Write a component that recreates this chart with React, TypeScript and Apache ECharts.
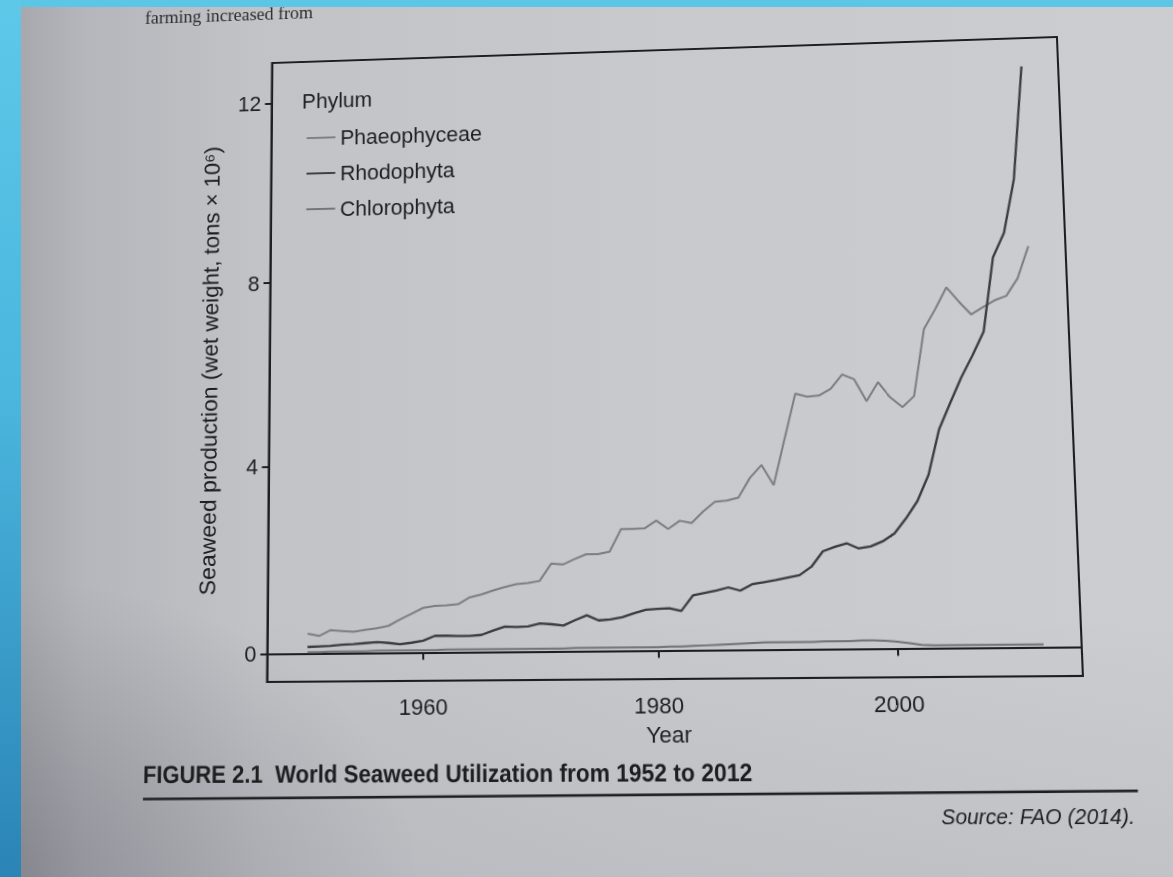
import React, { useEffect, useRef } from "react";
import * as echarts from "echarts";

const years = [
  1950, 1951, 1952, 1953, 1954, 1955, 1956, 1957, 1958, 1959,
  1960, 1961, 1962, 1963, 1964, 1965, 1966, 1967, 1968, 1969,
  1970, 1971, 1972, 1973, 1974, 1975, 1976, 1977, 1978, 1979,
  1980, 1981, 1982, 1983, 1984, 1985, 1986, 1987, 1988, 1989,
  1990, 1991, 1992, 1993, 1994, 1995, 1996, 1997, 1998, 1999,
  2000, 2001, 2002, 2003, 2004, 2005, 2006, 2007, 2008, 2009,
  2010, 2011, 2012,
];

const phaeophyceae = [
  0.42, 0.37, 0.49, 0.47, 0.45, 0.49, 0.52, 0.57, 0.7, 0.82,
  0.94, 0.98, 0.99, 1.01, 1.15, 1.21, 1.29, 1.36, 1.42, 1.44,
  1.48, 1.84, 1.82, 1.93, 2.03, 2.03, 2.08, 2.55, 2.55, 2.56,
  2.72, 2.54, 2.71, 2.66, 2.9, 3.1, 3.12, 3.18, 3.59, 3.86,
  3.43, 4.4, 5.36, 5.29, 5.31, 5.45, 5.75, 5.64, 5.17, 5.57,
  5.24, 5.03, 5.26, 6.68, 7.1, 7.56, 7.25, 6.97, 7.12, 7.26,
  7.35, 7.72, 8.4,
];

const rhodophyta = [
  0.14, 0.15, 0.16, 0.18, 0.19, 0.21, 0.23, 0.21, 0.18, 0.21,
  0.25, 0.35, 0.35, 0.34, 0.34, 0.36, 0.45, 0.53, 0.52, 0.53,
  0.59, 0.57, 0.54, 0.65, 0.75, 0.64, 0.66, 0.7, 0.78, 0.85,
  0.87, 0.88, 0.82, 1.14, 1.19, 1.24, 1.3, 1.23, 1.36, 1.4,
  1.44, 1.49, 1.54, 1.71, 2.03, 2.12, 2.19, 2.08, 2.12, 2.22,
  2.38, 2.69, 3.05, 3.6, 4.55, 5.1, 5.64, 6.1, 6.6, 8.18,
  8.7, 9.85, 12.3,
];

const chlorophyta = [
  0.03, 0.03, 0.04, 0.04, 0.04, 0.04, 0.05, 0.05, 0.05, 0.05,
  0.05, 0.05, 0.06, 0.06, 0.06, 0.06, 0.06, 0.06, 0.06, 0.06,
  0.06, 0.06, 0.06, 0.07, 0.07, 0.07, 0.07, 0.07, 0.07, 0.07,
  0.07, 0.08, 0.08, 0.09, 0.1, 0.11, 0.12, 0.13, 0.14, 0.15,
  0.15, 0.15, 0.15, 0.15, 0.16, 0.16, 0.16, 0.17, 0.17, 0.16,
  0.14, 0.11, 0.07, 0.06, 0.06, 0.06, 0.06, 0.06, 0.06, 0.06,
  0.06, 0.06, 0.06,
];

const seriesNames = ["Phaeophyceae", "Rhodophyta", "Chlorophyta"];
const seriesColors = ["#7c7e84", "#3c3d42", "#717379"];
const seriesWidths = [2, 2.3, 2];
const xTicks = [1960, 1980, 2000];
const yTicks = [0, 4, 8, 12];

const SANS = "'Liberation Sans', Arial, Helvetica, sans-serif";
const INK = "#1e1e21";

// The chart div extends OFF px above the page so that text above the
// frame is not clipped; its flat rectangle is mapped onto the keystoned
// frame seen in the photo.
const OFF = 60;
const W = 1173;
const H = 877 + OFF;
const SRC = [[269.5, 50 + OFF], [1070, 50 + OFF], [269.5, 679 + OFF], [1070, 679 + OFF]];
const DST = [[272, 63 + OFF], [1057, 37 + OFF], [267, 682 + OFF], [1083, 676 + OFF]];

function solveHomography(src: number[][], dst: number[][]) {
  const A: number[][] = [];
  const B: number[] = [];
  for (let i = 0; i < 4; i++) {
    const [x, y] = src[i];
    const [X, Y] = dst[i];
    A.push([x, y, 1, 0, 0, 0, -x * X, -y * X]);
    B.push(X);
    A.push([0, 0, 0, x, y, 1, -x * Y, -y * Y]);
    B.push(Y);
  }
  const n = 8;
  for (let col = 0; col < n; col++) {
    let piv = col;
    for (let r = col + 1; r < n; r++) if (Math.abs(A[r][col]) > Math.abs(A[piv][col])) piv = r;
    [A[col], A[piv]] = [A[piv], A[col]];
    [B[col], B[piv]] = [B[piv], B[col]];
    for (let r = 0; r < n; r++) {
      if (r === col) continue;
      const f = A[r][col] / A[col][col];
      for (let k = col; k < n; k++) A[r][k] -= f * A[col][k];
      B[r] -= f * B[col];
    }
  }
  return B.map((b, i) => b / A[i][i]);
}

const HF = solveHomography(SRC, DST);
const HI = solveHomography(DST, SRC);

function mapPt(h: number[], x: number, y: number) {
  const w = h[6] * x + h[7] * y + 1;
  return [(h[0] * x + h[1] * y + h[2]) / w, (h[3] * x + h[4] * y + h[5]) / w];
}
// page (photo) coordinates -> flat chart coordinates
const unwarp = (x: number, y: number) => mapPt(HI, x, y + OFF);

const MATRIX = `matrix3d(${HF[0]},${HF[3]},0,${HF[6]},${HF[1]},${HF[4]},0,${HF[7]},0,0,1,0,${HF[2]},${HF[5]},0,1)`;

function pairs(vals: number[]) {
  return years.map((y, i) => [y, vals[i]]);
}

export default function App() {
  const ref = useRef<HTMLDivElement>(null);

  useEffect(() => {
    if (!ref.current) return;
    const chart = echarts.init(ref.current, null, { renderer: "svg" });
    const allVals = [phaeophyceae, rhodophyta, chlorophyta];
    const phylum = unwarp(302, 101);
    const leg = unwarp(302, 123);
    const cap = unwarp(143, 775);
    const r1 = unwarp(143, 799);
    const r2 = unwarp(1138, 791);
    const src = unwarp(1135, 817);
    const top = unwarp(145, 18);
    chart.setOption({
      animation: false,
      backgroundColor: "transparent",
      grid: {
        left: 269.5,
        top: 50 + OFF,
        right: W - 1070,
        bottom: H - (679 + OFF),
        show: true,
        borderColor: INK,
        borderWidth: 2,
        backgroundColor: "transparent",
      },
      legend: {
        orient: "vertical",
        left: leg[0],
        top: leg[1],
        itemGap: 15,
        itemWidth: 30,
        itemHeight: 2,
        icon: "rect",
        data: seriesNames,
        textStyle: { fontSize: 22, lineHeight: 22, color: INK, fontFamily: SANS },
      },
      xAxis: {
        type: "value",
        min: 1946.5,
        max: 2015.1,
        name: "Year",
        nameLocation: "middle",
        nameGap: 42,
        nameTextStyle: { fontSize: 22, color: INK, fontFamily: SANS },
        axisLine: { show: true, lineStyle: { color: INK, width: 2 } },
        axisTick: { show: true, customValues: xTicks, length: 7, lineStyle: { color: INK, width: 2 } },
        axisLabel: {
          customValues: xTicks,
          formatter: (v: number) => String(v),
          fontSize: 22,
          color: INK,
          fontFamily: SANS,
          margin: 14,
        },
        splitLine: { show: false },
      },
      yAxis: {
        type: "value",
        min: -0.59,
        max: 12.92,
        name: "Seaweed production (wet weight, tons × 10⁶)",
        nameLocation: "middle",
        nameGap: 50,
        nameTextStyle: { fontSize: 23, color: INK, fontFamily: SANS },
        axisLine: { show: true, lineStyle: { color: INK, width: 2 } },
        axisTick: { show: true, customValues: yTicks, length: 7, lineStyle: { color: INK, width: 2 } },
        axisLabel: {
          customValues: yTicks,
          formatter: (v: number) => String(v),
          fontSize: 22,
          color: INK,
          fontFamily: SANS,
          margin: 11,
        },
        splitLine: { show: false },
      },
      series: seriesNames.map((name, i) => ({
        name,
        type: "line",
        data: pairs(allVals[i]),
        symbol: "none",
        showSymbol: false,
        color: seriesColors[i],
        lineStyle: { color: seriesColors[i], width: seriesWidths[i] },
      })),
      graphic: [
        {
          type: "text",
          x: top[0],
          y: top[1],
          style: {
            text: "farming increased from",
            fontSize: 19,
            fontFamily: "'Liberation Serif', serif",
            fill: "#2c2c30",
            verticalAlign: "middle",
          },
        },
        {
          type: "text",
          x: phylum[0],
          y: phylum[1],
          style: { text: "Phylum", fontSize: 22, fontFamily: SANS, fill: INK, verticalAlign: "middle" },
        },
        {
          type: "text",
          x: cap[0],
          y: cap[1],
          scaleX: 0.93,
          style: {
            text: "FIGURE 2.1  World Seaweed Utilization from 1952 to 2012",
            fontSize: 24,
            fontWeight: "bold",
            fontFamily: SANS,
            fill: INK,
            verticalAlign: "middle",
          },
        },
        {
          type: "line",
          shape: { x1: r1[0], y1: r1[1], x2: r2[0], y2: r2[1] },
          style: { stroke: INK, lineWidth: 2.5 },
        },
        {
          type: "text",
          x: src[0],
          y: src[1],
          style: {
            text: "Source: FAO (2014).",
            fontSize: 20,
            fontStyle: "italic",
            fontFamily: SANS,
            fill: INK,
            align: "right",
            verticalAlign: "middle",
          },
        },
      ],
    });
    return () => chart.dispose();
  }, []);

  return (
    <div
      style={{
        position: "fixed",
        left: 0,
        top: 0,
        width: 1173,
        height: 877,
        overflow: "hidden",
        background:
          "radial-gradient(ellipse 420px 300px at 0% 100%, rgba(40,40,55,0.22) 0%, rgba(40,40,55,0) 100%), linear-gradient(to bottom, rgba(0,0,0,0) 70%, rgba(30,30,45,0.06) 100%), linear-gradient(to right, #a3a4a9 0%, #b5b6bb 7%, #c2c3c7 22%, #c8c9cd 55%, #cbcdd0 100%)",
      }}
    >
      <div
        ref={ref}
        style={{
          position: "absolute",
          left: 0,
          top: -OFF,
          width: W,
          height: H,
          transformOrigin: "0 0",
          transform: MATRIX,
        }}
      />
      <div
        style={{
          position: "absolute",
          left: 0,
          top: 0,
          width: 1173,
          height: 7,
          background: "#5cc6e7",
          zIndex: 2,
        }}
      />
      <div
        style={{
          position: "absolute",
          left: 0,
          top: 0,
          width: 21,
          height: 877,
          background: "linear-gradient(to bottom, #5dc8e8 0%, #4bb6de 45%, #2a84b6 100%)",
          zIndex: 2,
        }}
      />
    </div>
  );
}
